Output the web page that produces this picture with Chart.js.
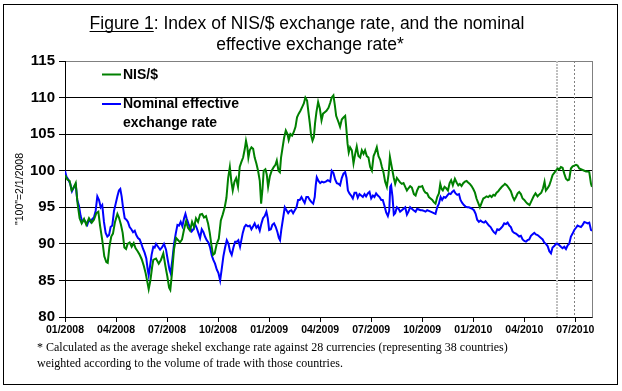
<!DOCTYPE html>
<html>
<head>
<meta charset="utf-8">
<script src="https://cdn.jsdelivr.net/npm/chart.js@4.4.1/dist/chart.umd.min.js"></script>
<style>
html,body{margin:0;padding:0;background:#fff;}
canvas{display:block;}
</style>
</head>
<body>
<canvas id="c" width="622" height="391"></canvas>
<script>
// ---- data (months since 01/2008) ----
const nisMonths = [0.00,0.14,0.27,0.39,0.49,0.63,0.74,0.86,0.98,1.12,1.25,1.41,1.57,1.70,1.84,1.96,2.06,2.19,2.31,2.43,2.51,2.61,2.72,2.82,2.94,3.08,3.17,3.29,3.39,3.49,3.59,3.68,3.80,3.92,4.04,4.15,4.27,4.39,4.51,4.63,4.74,4.84,4.92,5.02,5.12,5.19,5.35,5.51,5.64,5.78,5.90,6.02,6.12,6.19,6.29,6.41,6.53,6.65,6.76,6.88,7.00,7.12,7.23,7.35,7.47,7.59,7.70,7.82,7.94,8.06,8.17,8.29,8.41,8.51,8.61,8.70,8.80,8.92,9.04,9.16,9.27,9.39,9.49,9.59,9.69,9.78,9.86,9.96,10.06,10.17,10.27,10.37,10.47,10.57,10.64,10.72,10.78,10.86,10.96,11.06,11.15,11.25,11.35,11.45,11.53,11.61,11.68,11.78,11.86,11.94,12.04,12.15,12.27,12.37,12.45,12.55,12.63,12.70,12.78,12.88,12.98,13.08,13.15,13.25,13.35,13.45,13.55,13.64,13.74,13.84,13.94,14.04,14.13,14.23,14.31,14.39,14.47,14.55,14.63,14.70,14.78,14.88,14.98,15.08,15.17,15.27,15.37,15.49,15.59,15.68,15.78,15.86,15.94,16.02,16.10,16.17,16.27,16.37,16.47,16.53,16.61,16.68,16.76,16.86,16.96,17.06,17.15,17.25,17.35,17.45,17.55,17.64,17.74,17.84,17.94,18.04,18.14,18.23,18.33,18.43,18.53,18.63,18.72,18.82,18.92,19.02,19.10,19.17,19.25,19.33,19.41,19.51,19.61,19.70,19.80,19.90,20.00,20.10,20.19,20.29,20.39,20.51,20.61,20.70,20.80,20.90,21.00,21.10,21.19,21.29,21.39,21.49,21.59,21.68,21.78,21.88,21.98,22.06,22.14,22.21,22.31,22.41,22.51,22.61,22.70,22.80,22.92,23.02,23.12,23.21,23.31,23.41,23.51,23.61,23.70,23.80,23.90,24.00,24.10,24.19,24.29,24.39,24.49,24.59,24.68,24.78,24.88,24.98,25.08,25.18,25.27,25.37,25.47,25.57,25.68,25.78,25.86,25.98,26.10,26.21,26.31,26.41,26.51,26.61,26.70,26.80,26.90,27.00,27.10,27.19,27.31,27.43,27.55,27.66,27.78,27.90,28.00,28.10,28.19,28.27,28.37,28.47,28.57,28.66,28.76,28.86,28.96,29.06,29.15,29.25,29.35,29.45,29.55,29.64,29.74,29.84,29.94,30.04,30.13,30.23,30.33,30.43,30.53,30.63,30.72,30.82,30.92,30.98];
const nisValues = [99.4,98.8,98.6,97.3,97.6,98.3,95.5,93.5,92.8,93.4,92.6,93.5,92.9,93.3,94.2,94.4,92.5,90.5,88.3,87.5,87.4,89.6,91.0,91.4,93.0,94.1,93.6,92.6,91.5,89.5,89.3,90.0,90.2,89.6,90.1,89.4,89.0,88.5,87.9,87.0,86.0,84.8,83.8,85.0,86.8,87.8,88.0,87.3,87.8,88.7,87.0,85.5,84.0,83.7,86.0,89.3,90.8,90.5,90.2,90.6,92.0,93.1,92.2,91.8,93.0,92.3,93.5,93.0,94.0,94.1,93.6,93.8,92.8,91.5,89.8,88.5,88.7,90.0,90.7,93.2,94.0,95.0,96.3,99.0,100.5,98.5,97.3,98.5,99.0,97.8,100.5,101.2,101.8,103.0,104.1,103.2,101.8,102.8,103.2,103.0,101.8,101.0,100.0,98.6,95.5,97.5,100.0,100.2,99.5,97.8,99.2,100.0,100.5,100.8,101.4,100.0,99.8,101.8,103.0,104.5,105.5,105.0,104.2,105.0,104.8,105.3,106.0,107.3,107.8,108.2,108.7,109.2,110.0,109.6,108.0,106.5,104.8,104.1,104.6,106.5,108.0,109.4,108.5,106.9,107.8,108.0,108.2,108.6,109.3,110.0,110.3,109.0,107.5,107.0,106.5,106.0,107.0,107.3,107.5,106.0,103.7,102.5,103.2,102.8,101.0,102.3,103.3,102.0,101.8,102.8,102.3,102.8,102.0,101.8,100.5,100.0,102.0,102.5,103.2,102.0,101.5,100.5,99.8,98.5,97.8,99.5,101.9,101.0,100.0,99.0,98.2,99.0,98.7,98.4,98.2,98.3,97.8,97.3,97.6,97.9,97.7,96.8,96.6,97.3,97.8,97.8,97.9,97.3,97.0,96.9,96.4,96.2,96.0,95.7,95.5,96.4,96.9,98.2,97.5,97.3,97.8,97.6,97.3,98.3,98.7,98.0,98.9,98.4,98.0,98.2,97.9,98.3,98.5,98.6,98.4,98.2,97.9,97.5,97.0,96.2,95.6,95.0,95.6,96.2,96.3,96.5,96.4,96.6,96.4,96.7,96.6,97.0,97.2,97.5,97.8,98.0,98.2,98.0,97.6,97.2,96.5,96.0,96.4,96.9,97.1,96.8,96.2,96.0,95.7,95.5,95.3,95.9,96.5,96.9,96.5,96.8,97.0,97.6,98.5,97.3,97.6,98.0,98.7,99.4,99.7,100.0,100.3,100.2,100.5,100.4,99.6,98.9,98.7,98.8,100.3,100.6,100.7,100.8,100.7,100.3,100.2,100.1,100.0,99.9,99.9,99.8,98.2,97.8];

const neerMonths = [0.00,0.08,0.19,0.31,0.41,0.53,0.63,0.72,0.82,0.92,1.02,1.12,1.21,1.31,1.41,1.51,1.61,1.70,1.80,1.90,2.00,2.10,2.19,2.29,2.39,2.49,2.59,2.68,2.78,2.88,2.98,3.08,3.17,3.25,3.33,3.41,3.51,3.61,3.70,3.80,3.90,4.00,4.10,4.19,4.29,4.39,4.49,4.59,4.68,4.78,4.86,4.92,4.99,5.09,5.19,5.27,5.35,5.47,5.59,5.70,5.82,5.94,6.04,6.14,6.21,6.31,6.41,6.51,6.61,6.70,6.80,6.90,7.00,7.08,7.15,7.25,7.35,7.45,7.55,7.64,7.74,7.84,7.94,8.04,8.14,8.23,8.33,8.43,8.53,8.63,8.72,8.82,8.92,9.02,9.12,9.21,9.31,9.41,9.51,9.61,9.70,9.80,9.90,10.00,10.10,10.19,10.29,10.35,10.45,10.55,10.64,10.76,10.86,10.96,11.06,11.15,11.25,11.35,11.45,11.55,11.64,11.74,11.84,11.92,12.00,12.10,12.19,12.29,12.39,12.49,12.57,12.64,12.72,12.82,12.92,13.02,13.12,13.21,13.31,13.41,13.51,13.61,13.70,13.80,13.90,13.99,14.09,14.19,14.29,14.39,14.49,14.59,14.68,14.74,14.80,14.90,15.00,15.10,15.21,15.33,15.45,15.59,15.68,15.78,15.88,15.98,16.08,16.17,16.27,16.37,16.47,16.55,16.63,16.72,16.82,16.92,17.02,17.12,17.21,17.31,17.41,17.51,17.61,17.70,17.80,17.90,18.00,18.10,18.19,18.29,18.39,18.49,18.59,18.68,18.78,18.88,18.98,19.06,19.12,19.17,19.25,19.33,19.41,19.51,19.61,19.70,19.80,19.90,20.00,20.10,20.19,20.29,20.39,20.49,20.61,20.70,20.80,20.90,21.00,21.10,21.19,21.29,21.39,21.49,21.59,21.68,21.78,21.88,21.98,22.08,22.17,22.27,22.37,22.47,22.57,22.67,22.76,22.86,22.96,23.06,23.16,23.25,23.35,23.45,23.55,23.65,23.74,23.84,23.94,24.04,24.14,24.23,24.33,24.43,24.53,24.63,24.72,24.82,24.92,25.02,25.12,25.21,25.31,25.41,25.51,25.61,25.72,25.82,25.92,26.02,26.12,26.21,26.31,26.41,26.51,26.61,26.70,26.80,26.90,27.00,27.10,27.19,27.29,27.39,27.49,27.59,27.68,27.78,27.88,27.98,28.08,28.17,28.27,28.37,28.47,28.57,28.66,28.76,28.86,28.96,29.06,29.15,29.25,29.35,29.45,29.55,29.64,29.74,29.84,29.94,30.04,30.13,30.23,30.33,30.43,30.53,30.63,30.72,30.82,30.92,30.98];
const neerValues = [100.0,99.2,98.8,98.2,97.2,97.8,98.1,96.0,95.2,93.8,93.0,93.3,93.0,92.6,93.3,93.0,93.4,93.6,94.5,96.5,96.0,95.0,95.3,93.0,91.5,91.0,91.2,92.3,92.5,94.5,95.5,96.5,97.3,97.5,96.5,95.0,93.5,93.3,93.0,92.3,92.0,91.6,91.8,91.2,90.8,90.6,90.0,89.3,88.8,88.0,86.5,85.7,86.8,88.5,89.6,89.5,90.0,89.6,89.2,89.5,90.0,89.2,87.8,86.5,86.0,87.8,90.0,91.4,92.6,92.5,93.0,92.4,93.5,94.1,93.5,92.8,92.2,91.7,92.0,92.7,92.2,91.5,90.8,92.0,91.6,91.0,90.5,90.2,89.5,88.4,87.8,87.3,86.5,86.0,85.0,86.5,88.3,89.5,90.5,90.0,89.0,88.5,89.5,90.3,90.3,90.5,89.6,90.3,91.5,92.3,92.6,92.4,92.5,92.0,92.4,92.8,92.2,92.5,91.8,92.8,93.5,93.8,94.4,93.5,91.9,92.0,92.6,92.8,92.3,91.6,90.8,90.5,92.0,93.5,95.0,94.6,94.2,94.5,94.6,94.2,94.6,95.0,96.0,96.0,96.4,96.0,95.6,96.4,96.4,96.0,95.7,95.5,96.4,98.0,99.1,98.6,98.3,98.5,98.4,98.5,98.7,98.5,100.0,99.7,98.8,98.3,98.2,98.0,99.0,99.6,99.8,99.0,97.3,96.9,96.6,96.2,97.0,97.0,96.3,96.8,96.6,96.4,96.8,96.5,96.9,97.1,96.2,96.6,96.4,96.9,96.6,96.4,96.0,96.0,95.2,94.3,93.8,94.5,97.8,98.0,96.5,94.0,94.2,95.0,94.8,94.4,94.6,94.8,95.0,94.0,94.4,95.0,94.8,94.6,94.4,94.8,94.7,94.6,94.6,94.5,94.4,94.6,94.5,94.4,94.3,94.2,94.1,95.0,95.5,96.4,96.0,96.4,96.3,96.6,96.9,96.8,97.1,97.3,96.9,96.7,96.8,96.0,95.6,95.3,95.1,95.0,95.0,94.9,94.8,94.6,94.1,93.3,93.0,93.2,93.0,92.9,93.1,92.8,92.5,92.3,91.9,91.6,91.4,92.0,91.9,92.1,92.4,92.8,92.7,92.9,92.5,92.3,91.7,91.5,91.4,91.2,91.0,91.1,90.6,90.4,90.3,90.5,90.6,91.1,91.3,91.5,91.3,91.2,91.0,90.8,90.6,90.2,90.0,89.7,89.0,88.7,89.5,89.7,90.0,90.0,89.8,89.6,89.4,89.6,89.3,89.8,90.0,91.0,91.4,91.9,92.2,92.5,92.4,92.3,92.6,93.0,92.9,92.8,92.9,91.9,91.8];

const xTickMonths = [0,3,6,9,12,15,18,21,24,27,30];
const xTickLabels = ['01/2008','04/2008','07/2008','10/2008','01/2009','04/2009','07/2009','10/2009','01/2010','04/2010','07/2010'];
const yTicks = [80,85,90,95,100,105,110,115];
const markerMonths = [28.9, 29.94];
const seriesNames = ['NIS/$', ['Nominal effective','exchange rate']];

const SANS = '"Liberation Sans", Arial, sans-serif';
const SERIF = '"Liberation Serif", "Times New Roman", serif';

const decor = {
  id: 'decor',
  beforeDraw(chart) {
    const ctx = chart.ctx;
    ctx.save();
    ctx.fillStyle = '#fff';
    ctx.fillRect(0, 0, chart.width, chart.height);
    ctx.restore();
  },
  beforeDatasetsDraw(chart) {
    const {ctx, chartArea: a, scales: {x}} = chart;
    ctx.save();
    let px = Math.round(x.getPixelForValue(markerMonths[0]));
    ctx.strokeStyle = '#c0c0c0'; ctx.lineWidth = 2; ctx.setLineDash([2, 1]);
    ctx.beginPath(); ctx.moveTo(px, a.top); ctx.lineTo(px, a.bottom); ctx.stroke();
    px = Math.round(x.getPixelForValue(markerMonths[1])) + 0.5;
    ctx.strokeStyle = '#808080'; ctx.lineWidth = 1; ctx.setLineDash([2, 2]);
    ctx.beginPath(); ctx.moveTo(px, a.top); ctx.lineTo(px, a.bottom); ctx.stroke();
    ctx.restore();
  },
  afterDraw(chart) {
    const {ctx, chartArea: a} = chart;
    ctx.save();
    ctx.strokeStyle = '#808080'; ctx.lineWidth = 1;
    ctx.beginPath(); ctx.moveTo(Math.round(a.right) + 0.5, a.top); ctx.lineTo(Math.round(a.right) + 0.5, a.bottom + 0.5); ctx.stroke();

    // legend
    ctx.lineWidth = 2;
    ctx.font = 'bold 14px ' + SANS;
    ctx.fillStyle = '#000';
    ctx.textBaseline = 'middle';
    ctx.textAlign = 'left';
    ctx.strokeStyle = chart.data.datasets[0].borderColor;
    ctx.beginPath(); ctx.moveTo(102, 74.5); ctx.lineTo(121, 74.5); ctx.stroke();
    ctx.fillText(seriesNames[0], 123, 75);
    ctx.strokeStyle = chart.data.datasets[1].borderColor;
    ctx.beginPath(); ctx.moveTo(102, 104); ctx.lineTo(121, 104); ctx.stroke();
    ctx.fillText(seriesNames[1][0], 123, 104.5);
    ctx.fillText(seriesNames[1][1], 123, 123.5);

    // title
    ctx.font = '17.5px ' + SANS;
    const p1 = 'Figure 1', p2 = ': Index of NIS/$ exchange rate, and the nominal';
    const w1 = ctx.measureText(p1).width, w2 = ctx.measureText(p2).width;
    const cx = 307;
    const sx = cx - (w1 + w2) / 2;
    ctx.textAlign = 'left';
    ctx.textBaseline = 'alphabetic';
    ctx.fillText(p1, sx, 29);
    ctx.fillText(p2, sx + w1, 29);
    ctx.lineWidth = 1; ctx.strokeStyle = '#000';
    ctx.beginPath(); ctx.moveTo(sx, 31.5); ctx.lineTo(sx + w1, 31.5); ctx.stroke();
    ctx.textAlign = 'center';
    ctx.fillText('effective exchange rate*', 310, 50);

    // footnote
    ctx.font = '12px ' + SERIF;
    ctx.textAlign = 'left';
    ctx.fillText('* Calculated as the average shekel exchange rate against 28 currencies (representing 38 countries)', 37, 351);
    ctx.fillText('weighted according to the volume of trade with those countries.', 37, 367);

    // outer frame
    ctx.strokeStyle = '#000'; ctx.lineWidth = 1;
    ctx.strokeRect(3.5, 4.5, 614, 380);
    ctx.restore();
  }
};

const toPoints = (xs, ys) => xs.map((m, i) => ({x: m, y: ys[i]}));

new Chart(document.getElementById('c'), {
  type: 'line',
  data: {
    datasets: [
      {label: 'NIS/$', data: toPoints(nisMonths, nisValues), borderColor: '#008000', borderWidth: 2, pointRadius: 0, tension: 0, fill: false},
      {label: 'Nominal effective exchange rate', data: toPoints(neerMonths, neerValues), borderColor: '#0000ff', borderWidth: 2, pointRadius: 0, tension: 0, fill: false}
    ]
  },
  options: {
    responsive: false,
    animation: false,
    devicePixelRatio: 1,
    layout: {padding: {left: 0, right: 30, top: 61, bottom: 49}},
    plugins: {legend: {display: false}, tooltip: {enabled: false}, title: {display: false}},
    scales: {
      x: {
        type: 'linear', min: 0, max: 30.98,
        afterBuildTicks: s => { s.ticks = xTickMonths.map(v => ({value: v})); },
        afterFit: s => { s.height = 25; },
        ticks: {
          callback: v => xTickLabels[xTickMonths.indexOf(v)],
          font: {family: SANS, size: 10.5, weight: 'bold'}, color: '#000',
          maxRotation: 0, autoSkip: false, padding: 2
        },
        grid: {drawOnChartArea: false, drawTicks: true, tickLength: 5, tickColor: '#000', color: '#000'},
        border: {color: '#000', width: 1}
      },
      y: {
        min: 80, max: 115,
        afterBuildTicks: s => { s.ticks = yTicks.map(v => ({value: v})); },
        afterFit: s => { s.width = 65; },
        ticks: {font: {family: SANS, size: 15, weight: 'bold'}, color: '#000', padding: 4},
        grid: {color: c => (c.tick && c.tick.value === 115) ? '#808080' : '#000', tickColor: '#000', tickLength: 6, lineWidth: 1},
        border: {color: '#000', width: 1},
        title: {display: true, text: '"100"=2/1/2008', font: {family: SANS, size: 10.5}, color: '#000', padding: {top: 14, bottom: 0}}
      }
    }
  },
  plugins: [decor]
});
</script>
</body>
</html>
